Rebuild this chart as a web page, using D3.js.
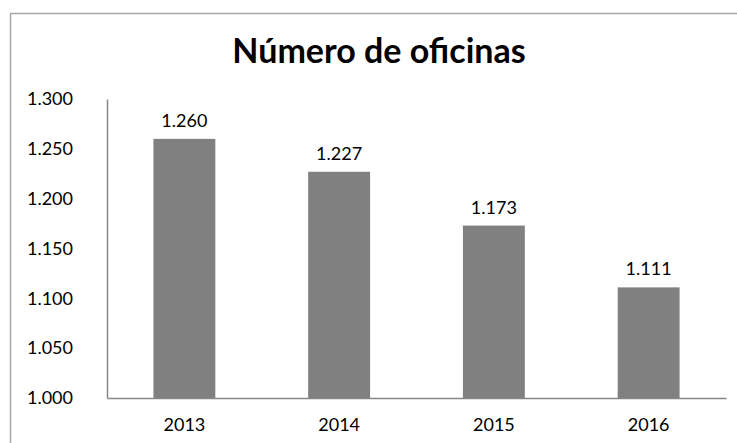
<!DOCTYPE html>
<html>
<head>
<meta charset="utf-8">
<script src="https://cdn.jsdelivr.net/npm/d3@7"></script>
<style>
  html, body { margin: 0; background: #fff; overflow: hidden; }
  svg { display: block; }
  svg text { font-family: Lato, "Open Sans", sans-serif; fill: #000; }
</style>
</head>
<body>
<div id="chart"></div>
<script>
const years = ["2013", "2014", "2015", "2016"];
const offices = [1260, 1227, 1173, 1111];
const yTicks = [1000, 1050, 1100, 1150, 1200, 1250, 1300];

const width = 737, height = 443;
const margin = {top: 99, right: 11, bottom: 40, left: 107};

const svg = d3.select("#chart")
  .append("svg")
  .attr("width", width)
  .attr("height", height);

// marco del gráfico (recortado a la derecha y abajo)
svg.append("path")
  .attr("d", `M10.5,${height}V13.5H${width}`)
  .attr("fill", "none")
  .attr("stroke", "#a6a6a6")
  .attr("stroke-width", 1.5);

svg.append("text")
  .attr("x", 379).attr("y", 63)
  .attr("text-anchor", "middle")
  .attr("font-size", 34)
  .attr("font-weight", "bold")
  .text("Número de oficinas");

const w = width - margin.left - margin.right;
const h = height - margin.top - margin.bottom;
const chart = svg.append("g")
  .attr("transform", `translate(${margin.left},${margin.top})`);

const x = d3.scaleBand().domain(years).range([0, w]).paddingInner(0.6).paddingOuter(0.3);
const y = d3.scaleLinear().domain([1000, 1300]).range([h - 5, 0]);

const data = years.map((d, i) => ({year: d, value: offices[i]}));

// barras
chart.selectAll("rect.bar")
  .data(data)
  .join("rect")
  .attr("class", "bar")
  .attr("x", d => x(d.year))
  .attr("y", d => y(d.value))
  .attr("width", x.bandwidth())
  .attr("height", d => y(1000) - y(d.value))
  .attr("fill", "#808080");

// etiquetas de valor
const fmt = v => d3.format(".3f")(v / 1000);
chart.selectAll("text.val")
  .data(data)
  .join("text")
  .attr("class", "val")
  .attr("x", d => x(d.year) + x.bandwidth() / 2)
  .attr("y", d => y(d.value) - 12)
  .attr("text-anchor", "middle")
  .attr("font-size", 18)
  .text(d => fmt(d.value));

// eje Y
const yAxis = chart.append("g")
  .call(d3.axisLeft(y).tickValues(yTicks).tickSize(0).tickSizeOuter(0).tickPadding(34).tickFormat(fmt));
yAxis.select(".domain").attr("stroke", "#868686").attr("stroke-width", 1.5);
yAxis.selectAll("text").attr("font-size", 18).attr("font-family", "Lato, 'Open Sans', sans-serif");

// eje X
const xAxis = chart.append("g")
  .attr("transform", `translate(0,${y(1000)})`)
  .call(d3.axisBottom(x).tickSize(0).tickSizeOuter(0).tickPadding(20));
xAxis.select(".domain").attr("stroke", "#868686").attr("stroke-width", 1.5);
xAxis.selectAll("text").attr("font-size", 18).attr("font-family", "Lato, 'Open Sans', sans-serif");
</script>
</body>
</html>
